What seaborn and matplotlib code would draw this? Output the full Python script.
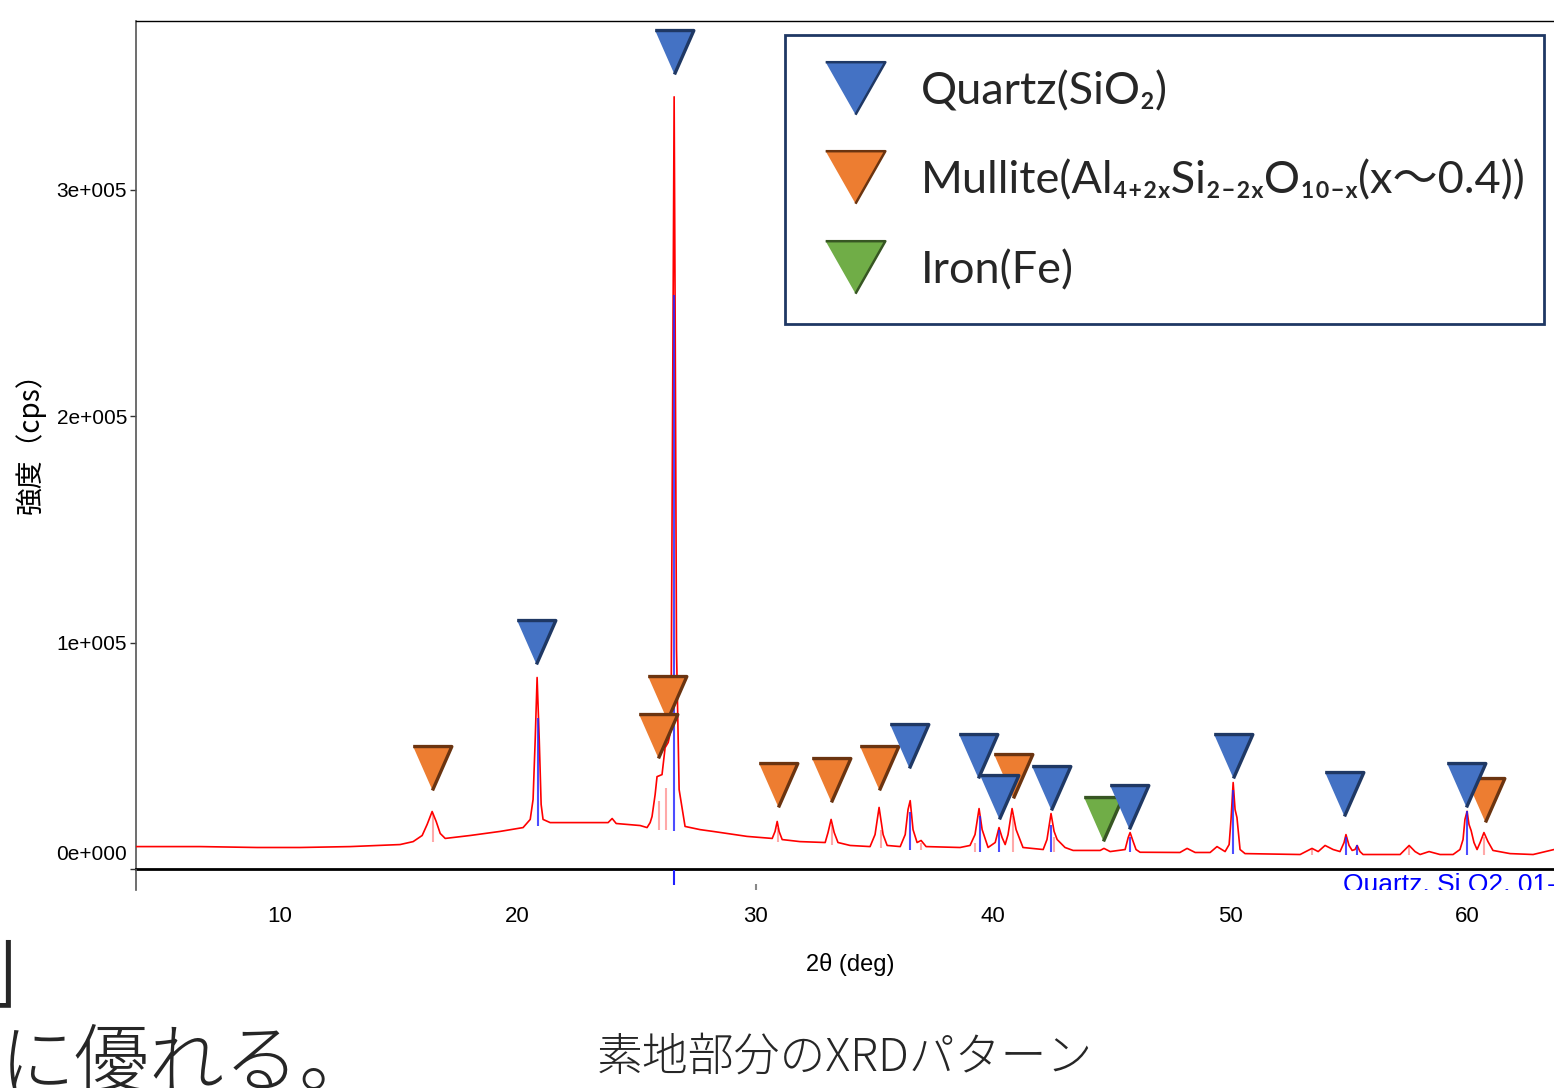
import pandas as pd
import seaborn as sns
import matplotlib.pyplot as plt
from matplotlib.lines import Line2D
from matplotlib.font_manager import FontProperties
from matplotlib.transforms import ScaledTranslation

# XRD pattern (2theta in deg, intensity in cps)
two_theta = [3.93, 6.63, 9.03, 10.84, 12.95, 15.05, 15.60, 15.98, 16.19, 16.40, 16.57, 16.74, 16.95,
             18.00, 19.26, 20.23, 20.53, 20.65, 20.74, 20.82, 20.91, 20.99, 21.07, 21.37, 22.63,
             23.81, 23.98, 24.15, 25.16, 25.45, 25.58, 25.66, 25.79, 25.87, 26.08, 26.21, 26.34,
             26.46, 26.53, 26.59, 26.63, 26.69, 26.80, 27.05, 27.68, 28.23, 29.66, 30.72, 30.84,
             30.93, 31.01, 31.14, 31.89, 32.95, 33.07, 33.20, 33.33, 33.49, 34.00, 34.84, 35.05,
             35.22, 35.39, 35.56, 36.11, 36.32, 36.44, 36.53, 36.65, 36.82, 36.99, 37.20, 38.63,
             39.05, 39.26, 39.43, 39.56, 39.81, 40.11, 40.27, 40.40, 40.53, 40.65, 40.82, 40.99,
             41.28, 42.13, 42.29, 42.46, 42.59, 42.72, 43.05, 43.39, 44.53, 44.69, 44.95, 45.58,
             45.71, 45.79, 45.92, 46.04, 46.21, 47.89, 48.19, 48.53, 49.16, 49.45, 49.79, 49.96,
             50.04, 50.13, 50.21, 50.29, 50.42, 50.63, 52.95, 53.45, 53.71, 54.00, 54.34, 54.63,
             54.80, 54.88, 55.01, 55.14, 55.26, 55.35, 55.47, 55.60, 57.16, 57.54, 57.79, 58.00,
             58.38, 58.84, 59.39, 59.68, 59.81, 59.89, 59.98, 60.06, 60.15, 60.27, 60.40, 60.53,
             60.69, 60.86, 61.07, 61.79, 62.76, 63.64]
intensity = [9900, 9900, 9500, 9500, 9900, 10800, 12100, 14800, 19700, 25400, 21000, 15700, 13500,
             14800, 16600, 18300, 21900, 30700, 57200, 84600, 57200, 28500, 21900, 20500, 20500,
             20500, 22300, 20100, 19200, 18300, 20500, 23200, 32900, 40800, 41700, 53600, 55900,
             61600, 207300, 341100, 251400, 96900, 35100, 18800, 17400, 16600, 14400, 13500, 16600,
             21000, 16600, 13000, 12100, 11700, 16100, 21900, 16100, 11700, 10400, 9900, 15200,
             27200, 15200, 10400, 9900, 15200, 26300, 30200, 17400, 11700, 12600, 9900, 9500,
             10400, 15200, 26700, 17400, 9500, 11700, 18300, 13900, 10800, 15200, 26700, 17400,
             9500, 8600, 13000, 24500, 16600, 13000, 9500, 8200, 8200, 9100, 7700, 8600,
             13900, 16100, 12100, 8600, 7400, 7300, 9100, 7300, 7300, 9900, 7700, 10800,
             21900, 38200, 26300, 22700, 8600, 6800, 6400, 9100, 7700, 10400, 8600, 7700,
             11700, 15200, 10400, 8200, 8600, 10400, 7700, 6400, 6400, 10400, 7700, 6400,
             7700, 6400, 6400, 8600, 13000, 21900, 25500, 19700, 17000, 11700, 8600, 11700,
             16100, 12100, 8200, 6800, 6400, 8600]

# reference sticks
quartz_pos = [20.86, 26.60, 36.54, 39.47, 40.29, 42.45, 45.79, 50.14, 54.87, 55.33, 59.96]
quartz_top = [66900, 253700, 25400, 23200, 17400, 19600, 14300, 35100, 14300, 10400, 25800]
quartz_base = [19200, 17000, 8600, 7700, 7700, 7300, 7300, 6800, 6400, 6400, 6400]
mullite_pos = [16.43, 25.97, 26.26, 30.96, 33.23, 35.30, 36.99, 39.26, 40.87, 42.60, 53.45, 57.54, 60.69]
mullite_top = [24300, 30200, 36000, 18300, 19600, 17400, 11700, 11700, 23200, 14300, 9000, 10000, 14300]
mullite_base = [12100, 17400, 17400, 12100, 10400, 9100, 8600, 7700, 7700, 7300, 6400, 6400, 6400]

# phase markers
quartz_mark_x = [20.78, 26.59, 36.48, 39.39, 40.27, 42.46, 45.75, 50.13, 54.80, 59.94]
quartz_mark_y = [100400, 360900, 54500, 50100, 31600, 36000, 27600, 49700, 33300, 37300]
mullite_mark_x = [16.40, 26.29, 25.92, 30.97, 33.20, 35.22, 40.86, 60.74]
mullite_mark_y = [44800, 75700, 58900, 36900, 39100, 44800, 41300, 30700]
iron_mark_x = [44.65]
iron_mark_y = [21900]

phase_labels = ["Quartz(SiO₂)", "Mullite(Al₄₊₂ₓSi₂₋₂ₓO₁₀₋ₓ(x〜0.4))", "Iron(Fe)"]
face_colors = ["#4472C4", "#ED7D31", "#70AD47"]
edge_colors = ["#1F3864", "#6B3410", "#375623"]

y_ticks = [0, 100000, 200000, 300000]
y_tick_labels = ["0e+000", "1e+005", "2e+005", "3e+005"]
x_ticks = [10, 20, 30, 40, 50, 60]

sns.set_style("white")
plt.rcParams['font.family'] = ['Liberation Sans', 'DejaVu Sans', 'Noto Sans CJK JP']

W, H = 1554, 1088
fig = plt.figure(figsize=(W / 100, H / 100), dpi=100)
ax = fig.add_axes([136 / W, 1 - 869 / H, 1 - 136 / W, (869 - 21) / H])

spec = pd.DataFrame({"two_theta": two_theta, "intensity": intensity})
sns.lineplot(data=spec, x="two_theta", y="intensity", color="#FF0000", linewidth=1.2, ax=ax, zorder=3)

ax.vlines(mullite_pos, mullite_base, mullite_top, color="#FF7070", alpha=0.6, linewidth=1.5, zorder=2)
ax.vlines(quartz_pos, quartz_base, quartz_top, color="#2020FF", alpha=0.8, linewidth=1.5, zorder=4)

tri = [(-0.44, 0.5), (0.44, 0.5), (0.0, -0.5)]
marks = [(mullite_mark_x, mullite_mark_y, 1), (iron_mark_x, iron_mark_y, 2), (quartz_mark_x, quartz_mark_y, 0)]
for mx, my, k in marks:
    sns.scatterplot(x=mx, y=my, marker=tri, s=1000, color=face_colors[k], edgecolor=edge_colors[k],
                    linewidth=2.4, ax=ax, zorder=5, clip_on=False)

ax.set_xlim(3.93, 63.64)
ax.set_ylim(0, 374600)
ax.set_xticks(x_ticks)
ax.set_xticklabels([str(t) for t in x_ticks], fontsize=16)
ax.set_yticks(y_ticks)
ax.set_yticklabels(y_tick_labels, fontsize=15)
ax.tick_params(axis="x", length=0, pad=27, labelcolor="black")
ax.tick_params(axis="y", length=4.5, width=1, pad=2, color="#333333", left=True, labelcolor="black")
ax.get_yticklabels()[0].set_transform(ax.get_yticklabels()[0].get_transform()
                                      + ScaledTranslation(0, 0.16, fig.dpi_scale_trans))

ax.spines["right"].set_visible(False)
ax.spines["top"].set_linewidth(1)
ax.spines["top"].set_color("black")
ax.spines["left"].set_linewidth(1.2)
ax.spines["left"].set_color("#555555")
ax.spines["bottom"].set_linewidth(2)
ax.spines["bottom"].set_color("black")

ax.set_xlabel("2θ (deg)", fontsize=17, color="black")
ax.xaxis.set_label_coords((850 - 136) / 1418, (869 - 965) / 848)
ax.xaxis.label.set_va("center")
ax.set_ylabel("強度（cps）", fontsize=20, family=["Noto Sans CJK JP"], color="black")
ax.yaxis.set_label_coords((30 - 136) / 1418, (869 - 436) / 848)
ax.yaxis.label.set_va("center")

# legend triangle sits a little lower than the handle centre
leg_tri = [(-0.5, 0.29), (0.5, 0.29), (0.0, -0.59)]
handles = [Line2D([], [], linestyle="none", marker=leg_tri, markersize=50.7, markerfacecolor=face_colors[k],
                  markeredgecolor=edge_colors[k], markeredgewidth=1.8) for k in range(3)]
leg = ax.legend(handles, phase_labels, loc="upper left", bbox_to_anchor=(785 / W, 1 - 35 / H),
                bbox_transform=fig.transFigure, frameon=True, fancybox=False, framealpha=1,
                edgecolor="#1F3864", borderpad=0.4, labelspacing=0.35, handlelength=2.3,
                handleheight=2.14, handletextpad=0.31, borderaxespad=0,
                prop=FontProperties(family=["Lato", "DejaVu Sans", "Noto Sans CJK JP"], size=32.5))
leg.get_frame().set_linewidth(2)
leg.set_zorder(6)

# strip of the stick panel below the axis, mostly cut off
ax2 = fig.add_axes([136 / W, 1 - 890 / H, 1 - 136 / W, 20 / H])
ax2.set_xlim(3.93, 63.64)
ax2.set_ylim(0, 1)
ax2.set_xticks([])
ax2.set_yticks([])
for s in ["top", "right", "bottom"]:
    ax2.spines[s].set_visible(False)
ax2.spines["left"].set_color("#555555")
ax2.spines["left"].set_linewidth(1.2)
ax2.patch.set_alpha(0)
ax2.vlines([26.60], 0.25, 1, color="#2020FF", linewidth=1.5)
ax2.vlines([30.04], 0, 0.3, color="#888888", linewidth=1.5)
ax2.text(54.77, 0.85, "Quartz, Si O2, 01-075-8322", color="#0000FF", fontsize=19,
         va="top", ha="left", clip_on=True)

# slide text around the chart
cjk = ["Noto Sans CJK JP", "DejaVu Sans"]
fig.text(597 / W, 1 - 1058 / H, "素地部分のXRDパターン", fontsize=33, family=cjk, weight="light",
         va="center", ha="left")
fig.text(0 / W, 1 - 1026 / H, "に優れる。", fontsize=54, family=cjk, weight="light", va="top", ha="left")
fig.text(-25 / W, 1 - 998 / H, "」", fontsize=75, family=cjk, weight="light", va="baseline", ha="left")

fig.savefig("out.png", dpi=100)
